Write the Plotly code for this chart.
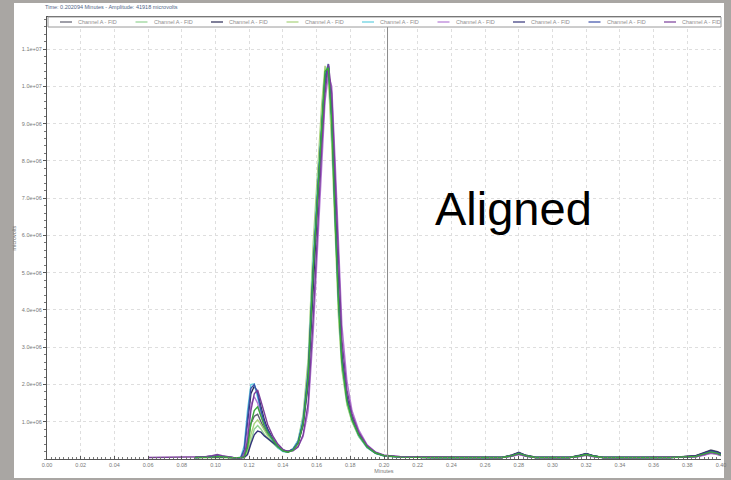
import plotly.graph_objects as go

# ---------------- data ----------------
minutes = [0.060, 0.070, 0.080, 0.088, 0.094, 0.098, 0.101, 0.104, 0.108, 0.112,
           0.115, 0.117, 0.119, 0.121, 0.123, 0.125, 0.127, 0.129, 0.131, 0.134,
           0.137, 0.140, 0.143, 0.146, 0.149, 0.152, 0.155, 0.158, 0.161, 0.163,
           0.165, 0.167, 0.169, 0.171, 0.173, 0.175, 0.178, 0.181, 0.185, 0.190,
           0.195, 0.200, 0.210, 0.230, 0.250, 0.270, 0.276, 0.280, 0.284, 0.290,
           0.300, 0.310, 0.316, 0.320, 0.324, 0.330, 0.350, 0.370, 0.385, 0.390,
           0.394, 0.398, 0.400]

# amplitudes in units of 1e6 microvolts
run_1 = [None, None, None, 0.04, 0.05, 0.06, 0.08, 0.06, 0.04, 0.03, 0.03, 0.06, 0.40, 0.95, 1.15, 1.20, 1.00, 0.80, 0.66, 0.50,
         0.34, 0.23, 0.20, 0.27, 0.46, 1.00, 2.30, 5.20, 7.50, 9.00, 10.30, 10.60, 9.10, 6.50, 4.30, 2.65, 1.60, 1.08, 0.66, 0.33,
         0.17, 0.09, 0.05, 0.04, 0.04, 0.04, 0.11, 0.18, 0.10, 0.05, 0.04, 0.04, 0.10, 0.15, 0.09, 0.04, 0.04, 0.04, 0.09, 0.17,
         0.24, 0.20, 0.15]
run_2 = [None, None, None, 0.04, 0.04, 0.05, 0.06, 0.05, 0.04, 0.03, 0.03, 0.04, 0.15, 0.50, 0.80, 0.90, 0.80, 0.66, 0.55, 0.42,
         0.30, 0.21, 0.18, 0.25, 0.45, 1.05, 2.40, 5.30, 7.70, 9.20, 10.35, 10.45, 8.80, 6.20, 4.00, 2.50, 1.50, 1.02, 0.62, 0.31,
         0.15, 0.08, 0.05, 0.04, 0.04, 0.04, 0.08, 0.12, 0.08, 0.04, 0.04, 0.04, 0.07, 0.10, 0.07, 0.04, 0.04, 0.04, 0.06, 0.11,
         0.15, 0.12, 0.09]
run_3 = [None, None, None, 0.04, 0.05, 0.06, 0.08, 0.06, 0.04, 0.03, 0.03, 0.15, 0.90, 1.75, 1.95, 1.80, 1.40, 1.05, 0.80, 0.55,
         0.35, 0.24, 0.20, 0.26, 0.42, 0.90, 2.00, 4.80, 7.20, 8.70, 10.10, 10.50, 9.40, 6.90, 4.50, 2.80, 1.65, 1.12, 0.68, 0.34,
         0.17, 0.09, 0.05, 0.04, 0.04, 0.04, 0.10, 0.17, 0.10, 0.05, 0.04, 0.04, 0.09, 0.14, 0.09, 0.04, 0.04, 0.04, 0.08, 0.15,
         0.22, 0.18, 0.14]
run_4 = [None, None, None, 0.04, 0.04, 0.05, 0.06, 0.05, 0.04, 0.03, 0.03, 0.04, 0.20, 0.65, 0.95, 1.05, 0.92, 0.75, 0.62, 0.46,
         0.32, 0.22, 0.19, 0.27, 0.50, 1.20, 2.70, 5.80, 8.00, 9.50, 10.55, 10.20, 8.40, 5.90, 3.80, 2.40, 1.45, 1.00, 0.60, 0.30,
         0.15, 0.08, 0.05, 0.04, 0.04, 0.04, 0.08, 0.13, 0.08, 0.04, 0.04, 0.04, 0.07, 0.11, 0.07, 0.04, 0.04, 0.04, 0.06, 0.11,
         0.16, 0.13, 0.10]
run_5 = [None, None, None, 0.04, 0.05, 0.08, 0.10, 0.07, 0.04, 0.03, 0.05, 0.35, 1.30, 2.00, 2.02, 1.65, 1.20, 0.90, 0.70, 0.48,
         0.30, 0.20, 0.18, 0.28, 0.50, 1.10, 2.40, 5.40, 7.60, 9.00, 10.30, 10.60, 9.00, 6.40, 4.20, 2.60, 1.55, 1.05, 0.62, 0.30,
         0.15, 0.08, 0.05, 0.04, 0.04, 0.04, 0.08, 0.14, 0.08, 0.04, 0.04, 0.04, 0.07, 0.12, 0.07, 0.04, 0.04, 0.04, 0.06, 0.12,
         0.18, 0.14, 0.10]
run_6 = [None, None, None, 0.04, 0.05, 0.06, 0.08, 0.06, 0.04, 0.03, 0.03, 0.12, 0.75, 1.45, 1.67, 1.50, 1.15, 0.90, 0.72, 0.52,
         0.34, 0.24, 0.21, 0.24, 0.34, 0.60, 1.30, 3.40, 6.20, 8.00, 9.60, 10.30, 10.00, 8.00, 5.60, 3.60, 2.10, 1.30, 0.78, 0.38,
         0.19, 0.10, 0.06, 0.05, 0.04, 0.04, 0.07, 0.12, 0.07, 0.04, 0.04, 0.04, 0.06, 0.10, 0.06, 0.04, 0.04, 0.04, 0.06, 0.10,
         0.15, 0.12, 0.09]
run_7 = [None, None, None, 0.04, 0.05, 0.06, 0.07, 0.06, 0.04, 0.03, 0.03, 0.04, 0.12, 0.40, 0.65, 0.75, 0.72, 0.62, 0.55, 0.44,
         0.32, 0.23, 0.20, 0.26, 0.44, 1.00, 2.30, 5.10, 7.40, 8.90, 10.25, 10.55, 9.20, 6.70, 4.40, 2.75, 1.65, 1.10, 0.66, 0.33,
         0.16, 0.09, 0.05, 0.04, 0.04, 0.04, 0.10, 0.16, 0.09, 0.04, 0.04, 0.04, 0.09, 0.14, 0.08, 0.04, 0.04, 0.04, 0.08, 0.15,
         0.22, 0.18, 0.13]
run_8 = [None, None, None, 0.04, 0.05, 0.07, 0.09, 0.07, 0.04, 0.03, 0.04, 0.25, 1.10, 1.90, 2.00, 1.75, 1.30, 0.98, 0.76, 0.52,
         0.33, 0.22, 0.19, 0.26, 0.45, 0.95, 2.10, 5.00, 7.40, 8.80, 10.20, 10.55, 9.20, 6.60, 4.30, 2.70, 1.60, 1.08, 0.65, 0.32,
         0.16, 0.09, 0.05, 0.04, 0.04, 0.04, 0.09, 0.16, 0.09, 0.04, 0.04, 0.04, 0.08, 0.13, 0.08, 0.04, 0.04, 0.04, 0.07, 0.14,
         0.20, 0.16, 0.12]
run_9 = [0.04, 0.05, 0.05, 0.05, 0.06, 0.09, 0.12, 0.09, 0.05, 0.03, 0.03, 0.08, 0.50, 1.30, 1.75, 1.85, 1.55, 1.20, 0.92, 0.62,
         0.40, 0.26, 0.20, 0.22, 0.32, 0.65, 1.50, 3.80, 6.60, 8.30, 9.80, 10.60, 9.80, 7.60, 5.10, 3.20, 1.85, 1.20, 0.72, 0.36,
         0.18, 0.10, 0.06, 0.05, 0.04, 0.04, 0.08, 0.13, 0.08, 0.04, 0.04, 0.04, 0.07, 0.11, 0.07, 0.04, 0.04, 0.04, 0.06, 0.12,
         0.17, 0.14, 0.10]
run_10 = [None, None, None, 0.04, 0.04, 0.05, 0.07, 0.05, 0.04, 0.03, 0.03, 0.05, 0.30, 0.95, 1.30, 1.40, 1.15, 0.88, 0.70, 0.50,
          0.33, 0.22, 0.18, 0.24, 0.42, 0.95, 2.20, 5.10, 7.50, 9.00, 10.40, 10.50, 9.00, 6.40, 4.20, 2.60, 1.55, 1.05, 0.64, 0.32,
          0.16, 0.09, 0.05, 0.04, 0.04, 0.04, 0.09, 0.15, 0.09, 0.04, 0.04, 0.04, 0.08, 0.12, 0.08, 0.04, 0.04, 0.04, 0.07, 0.13,
          0.19, 0.15, 0.11]

series = [run_1, run_2, run_3, run_4, run_5, run_6, run_7, run_8, run_9, run_10]
series_names = ["Channel A - FID"] * 10
series_colors = ["#5f5f6e", "#93d393", "#2b2b55", "#a9d27c", "#62cfe0",
                 "#b57ad6", "#34347a", "#3b4fa8", "#7a3f9a", "#3aa83a"]
legend_count = 9

x_tick_vals = [0.00, 0.02, 0.04, 0.06, 0.08, 0.10, 0.12, 0.14, 0.16, 0.18, 0.20,
               0.22, 0.24, 0.26, 0.28, 0.30, 0.32, 0.34, 0.36, 0.38, 0.40]
y_tick_vals = [1, 2, 3, 4, 5, 6, 7, 8, 9, 10, 11]
y_tick_text = ["1.0e+06", "2.0e+06", "3.0e+06", "4.0e+06", "5.0e+06", "6.0e+06",
               "7.0e+06", "8.0e+06", "9.0e+06", "1.0e+07", "1.1e+07"]
y_tick_text_right = ["1", "2", "3", "4", "5", "6", "7", "8", "9", "1", "1"]
cursor_time = 0.202094
header_text = "Time: 0.202094 Minutes - Amplitude: 41918 microvolts"
overlay_text = "Aligned"

# ---------------- figure ----------------
FONT = "Liberation Sans, Arial, sans-serif"
W, H = 731, 480
ML, MR, MT, MB = 47, 10, 17, 21
PW, PH = W - ML - MR, H - MT - MB
GRID = "#dedede"


def px_x(p):
    return (p - ML) / PW


def px_y(p):
    return (H - MB - p) / PH


fig = go.Figure()
for ys, name, col in zip(series, series_names, series_colors):
    fig.add_trace(go.Scatter(
        x=minutes, y=ys, mode="lines", name=name,
        line=dict(color=col, width=1.4), showlegend=False,
    ))

fig.update_layout(
    width=W, height=H,
    margin=dict(l=ML, r=MR, t=MT, b=MB, pad=0, autoexpand=False),
    paper_bgcolor="#a9a6a3",
    plot_bgcolor="white",
    font=dict(family=FONT, size=6, color="#666666"),
    showlegend=False,
    xaxis=dict(
        range=[0, 0.40], tickvals=x_tick_vals, tickformat=".2f",
        showgrid=True, gridcolor=GRID, griddash="dot", gridwidth=1,
        showline=True, linecolor="#555555", linewidth=1, mirror=True,
        ticks="inside", ticklen=3, tickcolor="#555555",
        minor=dict(dtick=0.0025, ticks="inside", ticklen=2, tickcolor="#777777", showgrid=False),
        tickfont=dict(size=5.5, color="#777777"),
        title=dict(text="Minutes", font=dict(size=5.5, color="#777777"), standoff=2),
        zeroline=False, automargin=False,
    ),
    yaxis=dict(
        range=[0, 11.86], tickvals=y_tick_vals, ticktext=y_tick_text,
        showgrid=True, gridcolor=GRID, griddash="dot", gridwidth=1,
        showline=True, linecolor="#555555", linewidth=1,
        ticks="outside", ticklen=3, tickcolor="#555555",
        minor=dict(dtick=0.2, ticks="outside", ticklen=2, tickcolor="#777777", showgrid=False),
        tickfont=dict(size=5.5, color="#777777"),
        title=dict(text="microvolts", font=dict(size=5.5, color="#777777"), standoff=4),
        zeroline=False, automargin=False,
    ),
    yaxis2=dict(
        overlaying="y", side="right", range=[0, 11.86],
        tickvals=y_tick_vals, ticktext=y_tick_text_right,
        showgrid=False, showline=True, linecolor="#555555", linewidth=1,
        ticks="outside", ticklen=3, tickcolor="#555555",
        minor=dict(dtick=0.2, ticks="outside", ticklen=2, tickcolor="#777777"),
        tickfont=dict(size=5.5, color="#777777"), zeroline=False, automargin=False,
    ),
)

# white panel over the grey frame
fig.add_shape(type="rect", xref="paper", yref="paper", layer="below",
              x0=px_x(14), x1=px_x(724), y0=px_y(478), y1=px_y(3),
              fillcolor="white", line=dict(width=0))
# cursor line
fig.add_shape(type="line", xref="x", yref="paper",
              x0=cursor_time, x1=cursor_time, y0=0, y1=1,
              line=dict(color="#8c8c8c", width=1))

# legend strip (compact, like the instrument software)
fig.add_shape(type="rect", xref="paper", yref="paper",
              x0=px_x(48), x1=px_x(721), y0=px_y(27), y1=px_y(17),
              fillcolor="white", line=dict(color="#9a9a9a", width=1))
LEG_STEP = 75.5
for i in range(legend_count):
    lx = 60 + i * LEG_STEP
    fig.add_shape(type="line", xref="paper", yref="paper",
                  x0=px_x(lx), x1=px_x(lx + 12), y0=px_y(22), y1=px_y(22),
                  line=dict(color=series_colors[i], width=1.2))
    fig.add_annotation(text=series_names[i], xref="paper", yref="paper",
                       x=px_x(lx + 16), y=px_y(22), xanchor="left", yanchor="middle",
                       showarrow=False, font=dict(size=5.5, color="#8f8f8f", family=FONT))

fig.add_annotation(text=header_text, xref="paper", yref="paper",
                   x=px_x(43), y=px_y(7), xanchor="left", yanchor="middle",
                   showarrow=False, font=dict(size=5.5, color="#4f6585", family=FONT))
fig.add_annotation(text=overlay_text, xref="paper", yref="paper",
                   x=px_x(513), y=px_y(208), xanchor="center", yanchor="middle",
                   showarrow=False, font=dict(size=47, color="black", family=FONT))

fig.write_html("out.html",
               config={"displayModeBar": False},
               post_script="document.body.style.margin='0';document.body.style.overflow='hidden';")
